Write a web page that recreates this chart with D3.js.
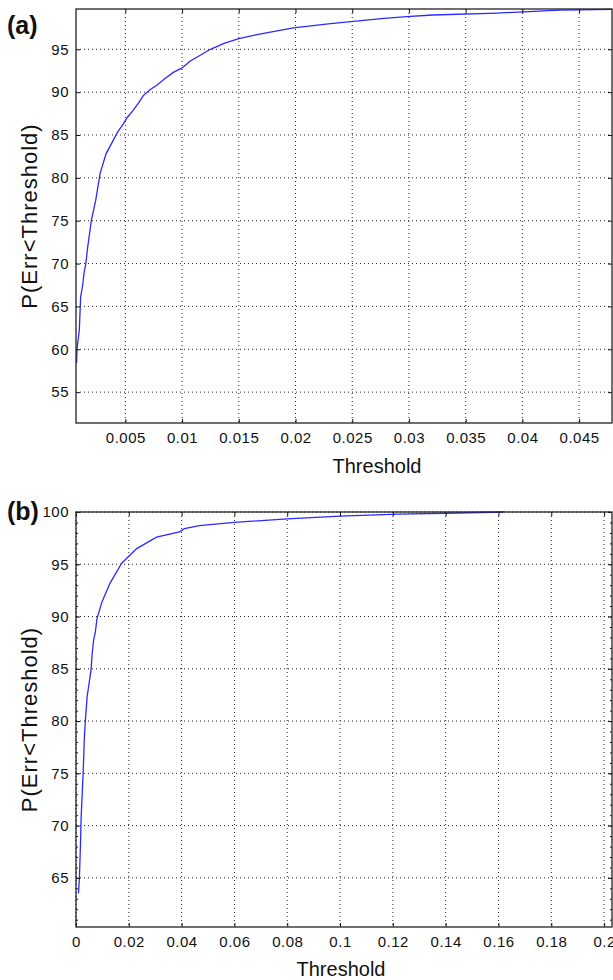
<!DOCTYPE html>
<html>
<head>
<meta charset="utf-8">
<script src="https://cdn.jsdelivr.net/npm/d3@7"></script>
<style>
  body { margin: 0; background: #fff; }
  svg text { font-family: "Liberation Sans", Arial, sans-serif; fill: #111; }
</style>
</head>
<body>
<div id="chart"></div>
<script>
// panel (a)
var threshA = [0.0007, 0.00075, 0.00094, 0.00106, 0.00124, 0.00136, 0.00153, 0.00165, 0.0020, 0.00239,
  0.00277, 0.0033, 0.00394, 0.0043, 0.00482, 0.0052, 0.0057, 0.0062, 0.00658, 0.0072,
  0.00777, 0.0085, 0.00923, 0.00997, 0.0107, 0.0116, 0.0125, 0.0137, 0.015, 0.0166,
  0.0198, 0.0231, 0.0251, 0.0278, 0.0298, 0.0321, 0.0378, 0.041, 0.0433, 0.0479];
var probA = [58.4, 60.2, 62.2, 66.1, 67.5, 68.9, 70.1, 71.6, 75.0, 77.4,
  80.5, 82.8, 84.4, 85.3, 86.3, 87.1, 87.9, 88.8, 89.6, 90.3,
  90.8, 91.6, 92.3, 92.8, 93.6, 94.3, 95.0, 95.7, 96.25, 96.7,
  97.5, 98.0, 98.26, 98.6, 98.8, 99.0, 99.23, 99.43, 99.58, 99.65];
var xTicksA = [0.005, 0.01, 0.015, 0.02, 0.025, 0.03, 0.035, 0.04, 0.045];
var yTicksA = [55, 60, 65, 70, 75, 80, 85, 90, 95];

// panel (b)
var threshB = [0.00094, 0.00131, 0.00169, 0.00195, 0.00233, 0.0027, 0.00319, 0.00356, 0.0042, 0.0057,
  0.00608, 0.00668, 0.00732, 0.00795, 0.00983, 0.0129, 0.0173, 0.023, 0.0305, 0.0392,
  0.0411, 0.0467, 0.06, 0.08, 0.1, 0.122, 0.14, 0.162];
var probB = [63.5, 65.1, 68.2, 70.8, 72.9, 75.0, 78.5, 80.1, 82.3, 84.9,
  86.3, 87.75, 88.5, 89.8, 91.4, 93.2, 95.1, 96.5, 97.6, 98.1,
  98.4, 98.7, 99.0, 99.35, 99.6, 99.8, 99.88, 100];
var xTicksB = [0, 0.02, 0.04, 0.06, 0.08, 0.1, 0.12, 0.14, 0.16, 0.18, 0.2];
var yTicksB = [65, 70, 75, 80, 85, 90, 95, 100];
var yMinorB = d3.range(61, 100);

var svg = d3.select("#chart").append("svg")
  .attr("width", 613)
  .attr("height", 980);

function drawPanel(p) {
  var g = svg.append("g");

  var x = d3.scaleLinear().domain(p.xDomain).range([p.left, p.right]);
  var y = d3.scaleLinear().domain(p.yDomain).range([p.bottom, p.top]);

  // dotted grid
  g.selectAll(".gx").data(p.xTicks).enter().append("line")
    .attr("x1", function (d) { return x(d); }).attr("x2", function (d) { return x(d); })
    .attr("y1", p.top).attr("y2", p.bottom)
    .attr("stroke", "#222").attr("stroke-width", 1).attr("stroke-dasharray", "1,3");
  g.selectAll(".gy").data(p.yTicks).enter().append("line")
    .attr("y1", function (d) { return y(d); }).attr("y2", function (d) { return y(d); })
    .attr("x1", p.left).attr("x2", p.right)
    .attr("stroke", "#222").attr("stroke-width", 1).attr("stroke-dasharray", "1,3");

  // curve
  var pts = p.xs.map(function (v, i) { return [v, p.ys[i]]; });
  var line = d3.line()
    .x(function (d) { return x(d[0]); })
    .y(function (d) { return y(d[1]); });
  g.append("path")
    .attr("d", line(pts))
    .attr("fill", "none")
    .attr("stroke", "#2a2aff")
    .attr("stroke-width", 1.3);

  // axes, ticks pointing in on all four sides
  var tl = 4;
  g.append("g").attr("transform", "translate(0," + p.bottom + ")")
    .call(d3.axisBottom(x).tickValues(p.xTicks).tickSize(-tl).tickPadding(9).tickFormat(d3.format("")));
  g.append("g").attr("transform", "translate(0," + p.top + ")")
    .call(d3.axisTop(x).tickValues(p.xTicks).tickSize(-tl).tickFormat(""));
  g.append("g").attr("transform", "translate(" + p.left + ",0)")
    .call(d3.axisLeft(y).tickValues(p.yTicks).tickSize(-tl).tickPadding(7).tickFormat(d3.format("")));
  g.append("g").attr("transform", "translate(" + p.right + ",0)")
    .call(d3.axisRight(y).tickValues(p.yTicks).tickSize(-tl).tickFormat(""));

  if (p.yMinor) {
    g.append("g").attr("transform", "translate(" + p.left + ",0)")
      .call(d3.axisLeft(y).tickValues(p.yMinor).tickSize(-2).tickFormat(""));
    g.append("g").attr("transform", "translate(" + p.right + ",0)")
      .call(d3.axisRight(y).tickValues(p.yMinor).tickSize(-2).tickFormat(""));
  }

  g.selectAll(".domain").remove();
  g.selectAll(".tick line").attr("stroke", "#111");
  g.selectAll(".tick text")
    .style("font-size", "15px")
    .style("letter-spacing", "0.5px")
    .attr("fill", "#222");

  // box
  g.append("rect")
    .attr("x", p.left).attr("y", p.top)
    .attr("width", p.right - p.left).attr("height", p.bottom - p.top)
    .attr("fill", "none").attr("stroke", "#222").attr("stroke-width", 1.3);

  // labels
  g.append("text")
    .attr("x", p.xLabelX).attr("y", p.xLabelY)
    .attr("text-anchor", "middle")
    .style("font-size", "20px")
    .text("Threshold");
  g.append("text")
    .attr("transform", "translate(" + 37 + "," + ((p.top + p.bottom) / 2) + ") rotate(-90)")
    .attr("text-anchor", "middle")
    .style("font-size", "22px")
    .style("letter-spacing", "1px")
    .text("P(Err<Threshold)");
  g.append("text")
    .attr("x", 7).attr("y", p.tagY)
    .style("font-size", "25px")
    .style("font-weight", "bold")
    .text(p.tag);
}

drawPanel({
  xs: threshA, ys: probA, xTicks: xTicksA, yTicks: yTicksA,
  xDomain: [0.00065, 0.0479], yDomain: [51.4, 99.7],
  left: 76, right: 612, top: 9, bottom: 423,
  xLabelX: 377, xLabelY: 473, tag: "(a)", tagY: 34
});

drawPanel({
  xs: threshB, ys: probB, xTicks: xTicksB, yTicks: yTicksB, yMinor: yMinorB,
  xDomain: [0, 0.203], yDomain: [60.3, 100],
  left: 76, right: 612, top: 512, bottom: 927,
  xLabelX: 341, xLabelY: 976, tag: "(b)", tagY: 520
});
</script>
</body>
</html>
